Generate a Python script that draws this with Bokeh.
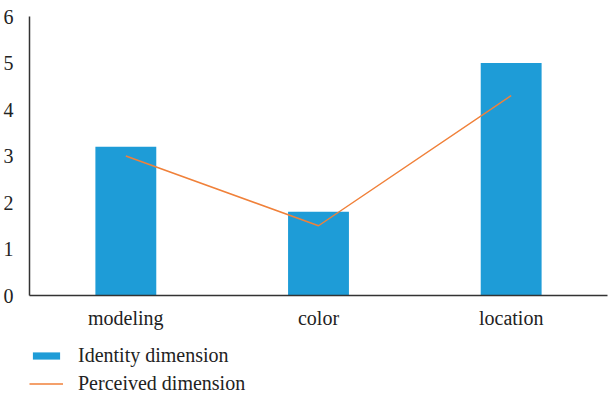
from bokeh.plotting import figure
from bokeh.layouts import column
from bokeh.models import Legend, LegendItem, Range1d, FactorRange
from bokeh.embed import file_html
from bokeh.resources import INLINE

categories = ["modeling", "color", "location"]
identity = [3.2, 1.8, 5.0]
perceived = [3.0, 1.5, 4.3]
series_names = ["Identity dimension", "Perceived dimension"]

FONT = "Liberation Serif"
BLUE = "#1E9CD7"
ORANGE = "#F0813A"

p = figure(width=608, height=335, x_range=FactorRange(*categories, range_padding=0),
           y_range=Range1d(0, 6), output_backend="svg", toolbar_location=None,
           min_border_left=29, min_border_right=1, min_border_top=16, min_border_bottom=40)
p.outline_line_color = None
p.grid.visible = False

p.vbar(x=categories, top=identity, width=0.316, color=BLUE, line_color=None)
p.line(x=categories, y=perceived, line_color=ORANGE, line_width=1.5)

for ax in (p.xaxis[0], p.yaxis[0]):
    ax.axis_line_color = "#333333"
    ax.axis_line_width = 1.5
    ax.major_tick_line_color = None
    ax.minor_tick_line_color = None
    ax.major_label_text_font = FONT
    ax.major_label_text_font_size = "20px"
    ax.major_label_text_color = "#222222"
p.yaxis.ticker = [0, 1, 2, 3, 4, 5, 6]
p.yaxis.major_label_standoff = 10
p.xaxis.major_label_standoff = 5

# legend panel: same series, renderers hidden, only the legend is shown
q = figure(width=608, height=60, output_backend="svg", toolbar_location=None,
           x_range=FactorRange(*categories), y_range=Range1d(0, 6),
           x_axis_location=None, y_axis_location=None,
           min_border_left=0, min_border_right=0, min_border_top=0, min_border_bottom=0)
q.grid.visible = False
q.outline_line_color = None
r1 = q.vbar(x=categories, top=identity, width=0.316, color=BLUE, line_color=None)
r2 = q.line(x=categories, y=perceived, line_color=ORANGE, line_width=1.5)
r1.visible = False
r2.visible = False

legend = Legend(items=[LegendItem(label=series_names[0], renderers=[r1]),
                       LegendItem(label=series_names[1], renderers=[r2])],
                orientation="vertical", location=(0, 0))
legend.border_line_color = None
legend.background_fill_alpha = 0
legend.inactive_fill_alpha = 0
legend.label_text_font = FONT
legend.label_text_font_size = "20px"
legend.label_text_color = "#222222"
legend.glyph_width = 34
legend.glyph_height = 9
legend.label_standoff = 15
legend.label_height = 20
legend.spacing = 5
legend.padding = 0
legend.margin = 0
q.add_layout(legend, "center")

layout = column(p, q, spacing=0)
open("out.html", "w").write(file_html(layout, INLINE))
